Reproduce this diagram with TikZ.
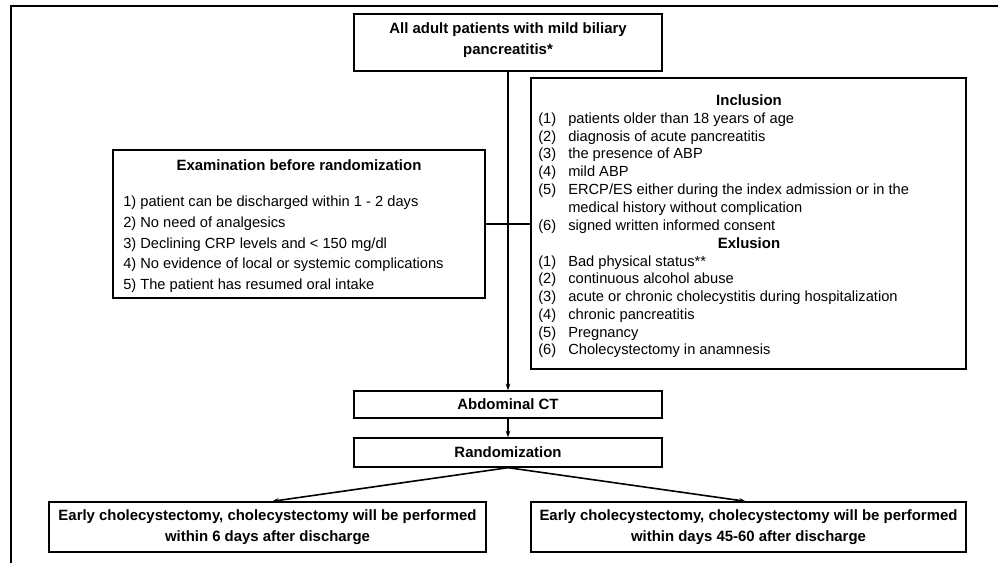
\documentclass[tikz,border=0pt]{standalone}
\usepackage{fontspec}
\setmainfont{Liberation Sans}
\usetikzlibrary{arrows.meta}
\begin{document}
\begin{tikzpicture}[x=0.75pt,y=-0.75pt,
  box/.style={draw, line width=1pt, inner sep=0pt, anchor=center},
  reg/.style={inner sep=0pt, text height=1.7ex, text depth=0.45ex, font=\fontsize{11}{13}\selectfont},
  bld/.style={inner sep=0pt, font=\fontsize{11.2}{15.5}\selectfont\bfseries, align=center},
  arr/.style={line width=0.9pt, -{Stealth[length=5pt,width=3.5pt]}},
  ln/.style={line width=0.9pt}]
\useasboundingbox (0,0) rectangle (998,563);
\fill[white] (0,0) rectangle (998,563);
\draw[line width=1.2pt] (11,563) -- (11,6) -- (998,6);

% top box
\node[box, minimum width=308*0.75pt, minimum height=57*0.75pt] (top) at (508,42.5) {};
\node[bld] (toptxt) at (508,40) {All adult patients with mild biliary\\pancreatitis*};

% left box
\node[box, minimum width=372*0.75pt, minimum height=148*0.75pt] (exam) at (299,224) {};
\node[bld] (examt) at (299,165) {Examination before randomization};
\node[reg, anchor=west] (e1) at (123,202) {1) patient can be discharged within 1 - 2 days};
\node[reg, anchor=west] (e2) at (123,222.8) {2) No need of analgesics};
\node[reg, anchor=west] (e3) at (123,243.6) {3) Declining CRP levels and < 150 mg/dl};
\node[reg, anchor=west] (e4) at (123,264.4) {4) No evidence of local or systemic complications};
\node[reg, anchor=west] (e5) at (123,285.2) {5) The patient has resumed oral intake};

% inclusion box
\node[box, minimum width=435*0.75pt, minimum height=291*0.75pt] (incl) at (748.5,223.5) {};
\node[bld] (inct) at (749,100) {Inclusion};
\node[reg, anchor=west] (il1) at (538,119) {(1)};
\node[reg, anchor=west] (it1) at (568,119) {patients older than 18 years of age};
\node[reg, anchor=west] (il2) at (538,137) {(2)};
\node[reg, anchor=west] (it2) at (568,137) {diagnosis of acute pancreatitis};
\node[reg, anchor=west] (il3) at (538,154.5) {(3)};
\node[reg, anchor=west] (it3) at (568,154.5) {the presence of ABP};
\node[reg, anchor=west] (il4) at (538,172) {(4)};
\node[reg, anchor=west] (it4) at (568,172) {mild ABP};
\node[reg, anchor=west] (il5) at (538,190) {(5)};
\node[reg, anchor=west] (it5) at (568,190) {ERCP/ES either during the index admission or in the};
\node[reg, anchor=west] (it5b) at (568,208) {medical history without complication};
\node[reg, anchor=west] (il6) at (538,226) {(6)};
\node[reg, anchor=west] (it6) at (568,226) {signed written informed consent};
\node[bld] (exct) at (749,243.5) {Exlusion};
\node[reg, anchor=west] (xl1) at (538,262) {(1)};
\node[reg, anchor=west] (xt1) at (568,262) {Bad physical status**};
\node[reg, anchor=west] (xl2) at (538,279.5) {(2)};
\node[reg, anchor=west] (xt2) at (568,279.5) {continuous alcohol abuse};
\node[reg, anchor=west] (xl3) at (538,297.5) {(3)};
\node[reg, anchor=west] (xt3) at (568,297.5) {acute or chronic cholecystitis during hospitalization};
\node[reg, anchor=west] (xl4) at (538,315) {(4)};
\node[reg, anchor=west] (xt4) at (568,315) {chronic pancreatitis};
\node[reg, anchor=west] (xl5) at (538,333) {(5)};
\node[reg, anchor=west] (xt5) at (568,333) {Pregnancy};
\node[reg, anchor=west] (xl6) at (538,350.5) {(6)};
\node[reg, anchor=west] (xt6) at (568,350.5) {Cholecystectomy in anamnesis};

% CT and randomization
\node[box, minimum width=308*0.75pt, minimum height=27*0.75pt, font=\fontsize{11.2}{13}\selectfont\bfseries] (ct) at (508,404.5) {Abdominal CT};
\node[box, minimum width=308*0.75pt, minimum height=29*0.75pt, font=\fontsize{11.2}{13}\selectfont\bfseries] (rand) at (508,452.5) {Randomization};

% bottom boxes
\node[box, minimum width=437*0.75pt, minimum height=50*0.75pt] (lb) at (267.5,527) {};
\node[bld] (lbt) at (267.5,527) {Early cholecystectomy, cholecystectomy will be performed\\within 6 days after discharge};
\node[box, minimum width=435*0.75pt, minimum height=50*0.75pt] (rb) at (748.5,527) {};
\node[bld] (rbt) at (748.5,527) {Early cholecystectomy, cholecystectomy will be performed\\within days 45-60 after discharge};

% connectors
\draw[arr] (top.south) -- (ct.north);
\draw[ln] (exam.east) -- (exam.east -| incl.west);
\draw[arr] (ct.south) -- (rand.north);
\draw[arr, line width=1.2pt] (rand.south) -- ([xshift=3.5pt]lb.north);
\draw[arr, line width=1.2pt] (rand.south) -- ([xshift=-2pt]rb.north);
\end{tikzpicture}
\end{document}
